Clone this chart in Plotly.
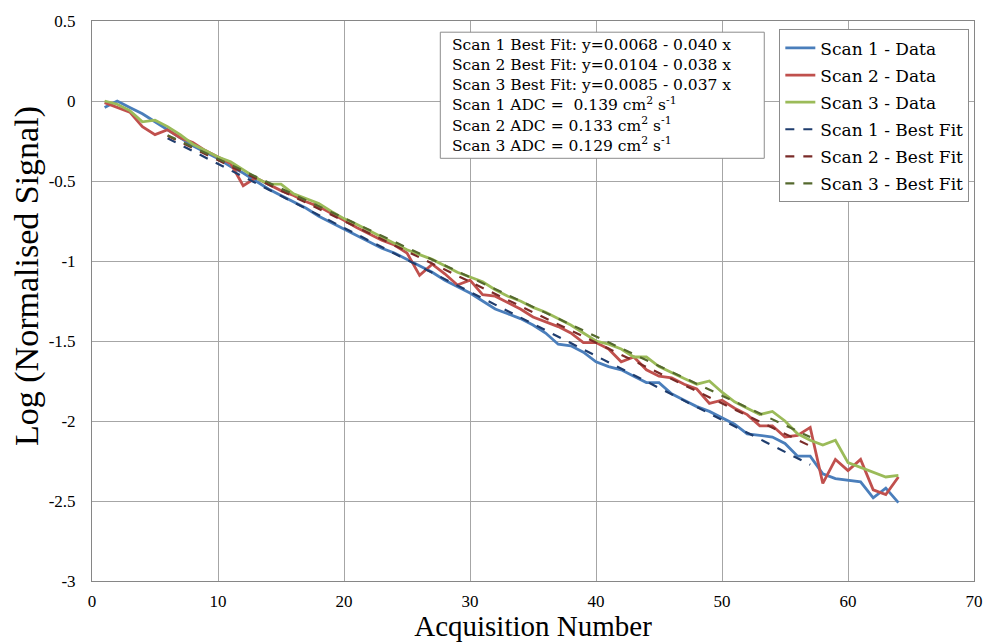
import plotly.graph_objects as go

acq = list(range(1, 65))

scan1 = [-0.04, 0.00, -0.04, -0.08, -0.13, -0.18, -0.23, -0.28, -0.32, -0.36,
         -0.41, -0.45, -0.50, -0.55, -0.59, -0.63, -0.67, -0.72, -0.76, -0.80,
         -0.84, -0.88, -0.92, -0.95, -0.99, -1.03, -1.07, -1.12, -1.16, -1.20,
         -1.25, -1.30, -1.33, -1.36, -1.40, -1.45, -1.52, -1.53, -1.57, -1.63,
         -1.66, -1.68, -1.72, -1.76, -1.76, -1.83, -1.87, -1.91, -1.94, -1.98,
         -2.02, -2.08, -2.09, -2.10, -2.14, -2.22, -2.22, -2.33, -2.36, -2.37,
         -2.38, -2.48, -2.42, -2.51]

scan2 = [-0.01, -0.04, -0.07, -0.16, -0.21, -0.18, -0.23, -0.26, -0.31, -0.35,
         -0.39, -0.53, -0.48, -0.52, -0.56, -0.59, -0.63, -0.66, -0.70, -0.745,
         -0.79, -0.83, -0.87, -0.90, -0.95, -1.09, -1.02, -1.08, -1.15, -1.12,
         -1.21, -1.22, -1.26, -1.30, -1.35, -1.38, -1.41, -1.45, -1.51, -1.51,
         -1.55, -1.63, -1.60, -1.68, -1.72, -1.73, -1.77, -1.80, -1.89, -1.87,
         -1.92, -1.96, -2.03, -2.03, -2.10, -2.09, -2.04, -2.39, -2.24, -2.31,
         -2.24, -2.43, -2.46, -2.35]

scan3 = [0.00, -0.02, -0.06, -0.13, -0.12, -0.16, -0.21, -0.27, -0.31, -0.35,
         -0.38, -0.43, -0.48, -0.52, -0.52, -0.58, -0.61, -0.64, -0.69, -0.735,
         -0.77, -0.81, -0.855, -0.89, -0.93, -0.96, -0.99, -1.03, -1.07, -1.10,
         -1.13, -1.18, -1.22, -1.25, -1.29, -1.32, -1.36, -1.40, -1.45, -1.50,
         -1.52, -1.55, -1.60, -1.60, -1.66, -1.70, -1.735, -1.77, -1.75, -1.82,
         -1.88, -1.92, -1.96, -1.94, -2.00, -2.08, -2.12, -2.15, -2.12, -2.26,
         -2.29, -2.32, -2.35, -2.34]

fit_x = [6, 57]
fit1 = [-0.233, -2.273]
fit2 = [-0.218, -2.156]
fit3 = [-0.2135, -2.1005]

names_data = ["Scan 1 - Data", "Scan 2 - Data", "Scan 3 - Data"]
names_fit = ["Scan 1 - Best Fit", "Scan 2 - Best Fit", "Scan 3 - Best Fit"]

x_ticks = [0, 10, 20, 30, 40, 50, 60, 70]
y_ticks = [0.5, 0, -0.5, -1, -1.5, -2, -2.5, -3]
y_tick_text = ["0.5", "0", "-0.5", "-1", "-1.5", "-2", "-2.5", "-3"]

annot_lines = [
    "Scan 1 Best Fit: y=0.0068 - 0.040 x",
    "Scan 2 Best Fit: y=0.0104 - 0.038 x",
    "Scan 3 Best Fit: y=0.0085 - 0.037 x",
    "Scan 1 ADC =  0.139 cm<sup>2</sup> s<sup>-1</sup>",
    "Scan 2 ADC = 0.133 cm<sup>2</sup> s<sup>-1</sup>",
    "Scan 3 ADC = 0.129 cm<sup>2</sup> s<sup>-1</sup>",
]

FONT = "Liberation Serif"
BOXFONT = "DejaVu Serif"
data_colors = ["#4A7EBB", "#C0504D", "#9BBB59"]
fit_colors = ["#1F3D6E", "#7A2B28", "#55692E"]

fig = go.Figure()
for i, (ys, nm, c) in enumerate(zip([scan1, scan2, scan3], names_data, data_colors)):
    fig.add_trace(go.Scatter(x=acq, y=ys, mode="lines", name=nm,
                             legendgroup=f"d{i}",
                             line=dict(color=c, width=2.8)))
for i, (ys, nm, c) in enumerate(zip([fit1, fit2, fit3], names_fit, fit_colors)):
    fig.add_trace(go.Scatter(x=fit_x, y=ys, mode="lines", name=nm,
                             legendgroup=f"f{i}",
                             line=dict(color=c, width=2.2, dash="dash")))

# text box frame
fig.add_shape(type="rect", xref="paper", yref="paper",
              x0=0.3949, x1=0.7622, y0=0.7548, y1=0.98,
              line=dict(color="#8c8c8c", width=1), fillcolor="white",
              layer="above")
fig.add_annotation(
    xref="paper", yref="paper", x=0.4074, y=0.9745, xanchor="left", yanchor="top",
    text="<br>".join(annot_lines), showarrow=False, align="left",
    font=dict(family=BOXFONT, size=15.5, color="black"), borderpad=0,
)

# y-axis title (sits slightly above the axis centre, as in the original)
fig.add_annotation(
    xref="paper", yref="paper", x=-0.073, y=0.544, xanchor="center", yanchor="middle",
    text="Log (Normalised Signal)", showarrow=False, textangle=-90,
    font=dict(family=FONT, size=34, color="black"),
)

fig.update_layout(
    width=986, height=642,
    margin=dict(l=92, r=12, t=21, b=61),
    paper_bgcolor="white", plot_bgcolor="white",
    font=dict(family=FONT, size=17, color="black"),
    legend=dict(x=0.9947, y=0.985, xanchor="right", yanchor="top",
                bordercolor="#8c8c8c", borderwidth=1, bgcolor="white",
                font=dict(family=BOXFONT, size=17, color="black"),
                tracegroupgap=2, itemwidth=30),
    xaxis=dict(range=[0, 70], tickvals=x_ticks, showgrid=True,
               gridcolor="#a6a6a6", gridwidth=1, showline=True,
               linecolor="#868686", mirror=True, zeroline=False,
               ticks="", ticklabelstandoff=5, automargin=False,
               tickfont=dict(family=FONT, size=17, color="black"),
               title=dict(text="Acquisition Number",
                          font=dict(family=FONT, size=29, color="black"),
                          standoff=2)),
    yaxis=dict(range=[-3, 0.5], tickvals=y_ticks, ticktext=y_tick_text,
               showgrid=True, gridcolor="#a6a6a6", gridwidth=1,
               showline=True, linecolor="#868686", mirror=True,
               zeroline=False, ticks="", ticklabelstandoff=12,
               automargin=False,
               tickfont=dict(family=FONT, size=17, color="black")),
)

fig.write_html("out.html", config={"displayModeBar": False},
               post_script="document.body.style.margin='0';")
